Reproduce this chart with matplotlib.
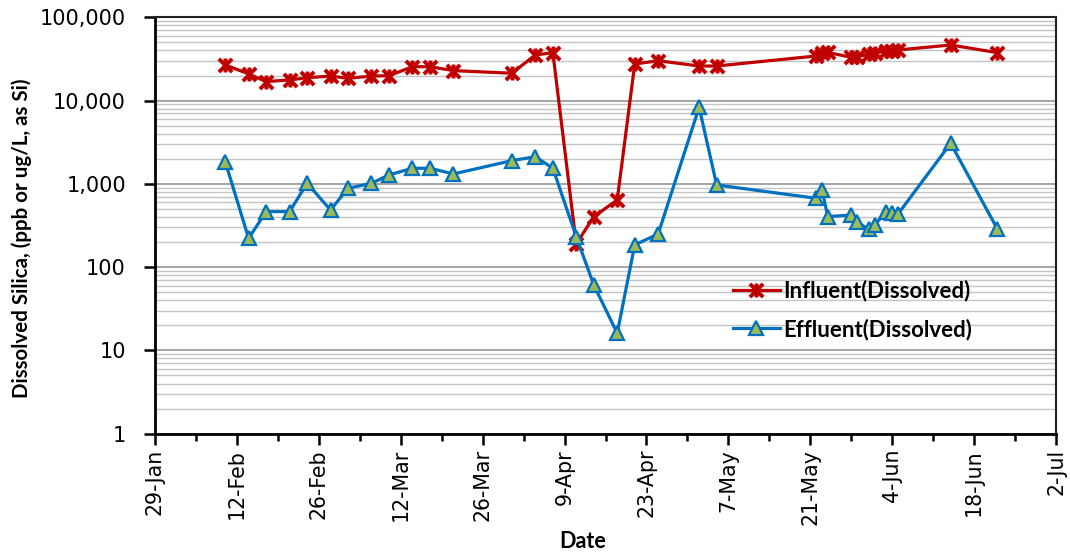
import matplotlib
matplotlib.use("Agg")
import matplotlib.pyplot as plt
import matplotlib.dates as mdates
from matplotlib.path import Path
from matplotlib.ticker import FixedLocator, FuncFormatter, LogLocator, NullFormatter
import numpy as np
import pandas as pd

# Sampling dates (2013 season)
dates = ["2013-02-10", "2013-02-14", "2013-02-17", "2013-02-21", "2013-02-24",
         "2013-02-28", "2013-03-03", "2013-03-07", "2013-03-10", "2013-03-14",
         "2013-03-17", "2013-03-21", "2013-03-31", "2013-04-04", "2013-04-07",
         "2013-04-11", "2013-04-14", "2013-04-18", "2013-04-21", "2013-04-25",
         "2013-05-02", "2013-05-05", "2013-05-22", "2013-05-23", "2013-05-24",
         "2013-05-28", "2013-05-29", "2013-05-31", "2013-06-01", "2013-06-03",
         "2013-06-04", "2013-06-05", "2013-06-14", "2013-06-22"]

# Dissolved silica, ppb as Si
influent = [26800, 20900, 16900, 17700, 18800, 19700, 18500, 19700, 19900, 25500,
            25500, 22900, 21300, 35300, 37600, 190, 404, 640, 27500, 30100,
            26000, 26000, 34300, 36800, 37800, 33100, 33400, 36300, 37300, 39400,
            39900, 40500, 46500, 37600]
effluent = [1850, 222, 464, 464, 1016, 486, 885, 1016, 1280, 1540,
            1540, 1315, 1900, 2120, 1540, 232, 61, 16.1, 185, 250,
            8310, 970, 671, 845, 404, 423, 346, 285, 321, 464,
            443, 435, 3070, 285]

series_names = ["Influent(Dissolved)", "Effluent(Dissolved)"]
x_start, x_end = "2013-01-29", "2013-07-02"
y_ticks = [1, 10, 100, 1000, 10000, 100000]

t = pd.to_datetime(dates)

# Six-armed star marker: an X crossed by a vertical bar
star = Path([(-1, -1), (1, 1), (-1, 1), (1, -1), (0, -1.05), (0, 1.05)],
            [Path.MOVETO, Path.LINETO, Path.MOVETO, Path.LINETO, Path.MOVETO, Path.LINETO])

fig = plt.figure(figsize=(10.7, 5.57), dpi=100)
ax = fig.add_axes([155 / 1070, 1 - 433.7 / 557, (1056 - 155) / 1070, (433.7 - 17.3) / 557])

red = "#C00000"
blue = "#0070C0"
green = "#9BBB59"

ax.plot(t, influent, color=red, lw=2.3, marker=star, ms=10, mec=red, mfc=red,
        mew=2.8, label=series_names[0], zorder=3)
ax.plot(t, effluent, color=blue, lw=2.3, marker="^", ms=10, mec=blue, mfc=green,
        mew=1.6, label=series_names[1], zorder=4)

ax.set_yscale("log")
ax.set_ylim(1, 100000)
ax.yaxis.set_major_locator(FixedLocator(y_ticks))
ax.yaxis.set_major_formatter(FuncFormatter(lambda v, p: f"{v:,.0f}"))
ax.yaxis.set_minor_locator(LogLocator(base=10, subs=np.arange(2, 10)))
ax.yaxis.set_minor_formatter(NullFormatter())
ax.grid(which="major", axis="y", color="#8c8c8c", lw=1.1)
ax.grid(which="minor", axis="y", color="#c4c4c4", lw=1.0)
ax.set_axisbelow(True)

x0, x1 = pd.Timestamp(x_start), pd.Timestamp(x_end)
ax.set_xlim(x0, x1)
major = pd.date_range(x0, x1, freq="14D")
minor = pd.date_range(x0, x1, freq="7D")
ax.xaxis.set_major_locator(FixedLocator(mdates.date2num(major)))
ax.xaxis.set_minor_locator(FixedLocator(mdates.date2num(minor)))
ax.xaxis.set_major_formatter(mdates.DateFormatter("%-d-%b"))

ax.tick_params(axis="x", which="major", direction="out", length=8, width=1.8,
               labelsize=14.8, labelrotation=90, pad=3)
ax.tick_params(axis="x", which="minor", direction="out", length=5, width=1.8)
ax.tick_params(axis="y", which="major", direction="out", length=8, width=1.8,
               labelsize=15, pad=13)
ax.tick_params(axis="y", which="minor", length=0)

for side in ["left", "bottom"]:
    ax.spines[side].set_linewidth(2.0)
    ax.spines[side].set_color("black")
for side in ["top", "right"]:
    ax.spines[side].set_linewidth(1.5)
    ax.spines[side].set_color("#222222")

bold = dict(family="Lato", weight="bold")
fig.text(22 / 1070, 1 - 238 / 557, "Dissolved Silica, (ppb or ug/L, as Si)",
         rotation=90, ha="center", va="center", fontsize=14.8, **bold)
fig.text(583 / 1070, 1 - 542 / 557, "Date", ha="center", va="center",
         fontsize=15.5, **bold)

leg = ax.legend(loc="upper left", bbox_to_anchor=(733 / 1070, 1 - 280 / 557),
                bbox_transform=fig.transFigure, frameon=False,
                prop=dict(family="Lato", weight="bold", size=16),
                handlelength=2.1, handletextpad=0.15, labelspacing=0.75,
                borderaxespad=0, borderpad=0)

fig.savefig("out.png", dpi=100)
